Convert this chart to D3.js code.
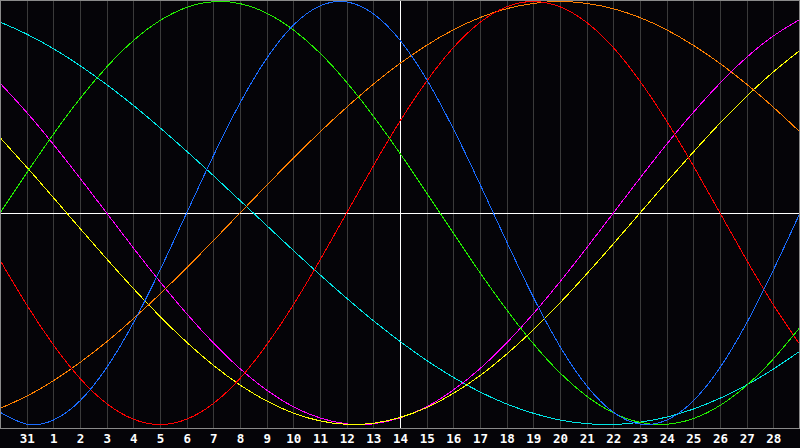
<!DOCTYPE html>
<html>
<head>
<meta charset="utf-8">
<script src="https://cdn.jsdelivr.net/npm/d3@7"></script>
<style>
  html, body { margin: 0; padding: 0; background: #050408; }
  svg { display: block; }
</style>
</head>
<body>
<svg id="bioChart" width="800" height="448"></svg>
<script>
// day labels under the grid lines (grid index 1..29)
let dayLabels = ['31','1','2','3','4','5','6','7','8','9','10','11','12','13','14',
                 '15','16','17','18','19','20','21','22','23','24','25','26','27','28'];

// daily values, grid index 0..30
let physical = [-0.942,-0.998,-0.979,-0.888,-0.731,-0.520,-0.270,0,0.270,0.520,0.731,0.888,0.979,0.998,0.942,
                0.817,0.631,0.398,0.136,-0.136,-0.398,-0.631,-0.817,-0.942,-0.998,-0.979,-0.888,-0.731,-0.520,-0.270,0];
let emotional = [-0.223,-0.434,-0.623,-0.782,-0.901,-0.975,-1,-0.975,-0.901,-0.782,-0.623,-0.434,-0.223,0,0.223,
                 0.434,0.623,0.782,0.901,0.975,1,0.975,0.901,0.782,0.623,0.434,0.223,0,-0.223,-0.434,-0.623];
let intellectual = [0,0.189,0.372,0.541,0.690,0.815,0.910,0.972,0.999,0.990,0.945,0.866,0.756,0.618,0.458,
                    0.282,0.095,-0.095,-0.282,-0.458,-0.618,-0.756,-0.866,-0.945,-0.990,-0.999,-0.972,-0.910,-0.815,-0.690,-0.541];
let intuitive = [0.614,0.476,0.325,0.165,0,-0.165,-0.325,-0.476,-0.614,-0.736,-0.837,-0.916,-0.969,-0.997,-0.997,
                 -0.969,-0.916,-0.837,-0.736,-0.614,-0.476,-0.325,-0.165,0,0.165,0.325,0.476,0.614,0.736,0.837,0.916];
let aesthetic = [0.357,0.217,0.073,-0.073,-0.217,-0.357,-0.489,-0.611,-0.720,-0.813,-0.889,-0.946,-0.983,-0.999,-0.994,
                 -0.967,-0.920,-0.853,-0.769,-0.667,-0.552,-0.425,-0.288,-0.146,0,0.146,0.288,0.425,0.552,0.667,0.769];
let awareness = [-0.924,-0.866,-0.793,-0.707,-0.609,-0.5,-0.383,-0.259,-0.131,0,0.131,0.259,0.383,0.5,0.609,
                 0.707,0.793,0.866,0.924,0.966,0.991,1,0.991,0.966,0.924,0.866,0.793,0.707,0.609,0.5,0.383];
let spiritual = [0.903,0.846,0.777,0.697,0.607,0.509,0.403,0.292,0.177,0.059,-0.059,-0.177,-0.292,-0.403,-0.509,
                 -0.607,-0.697,-0.777,-0.846,-0.903,-0.947,-0.979,-0.996,-1.000,-0.989,-0.965,-0.927,-0.876,-0.813,-0.738,-0.653];

let seriesNames = ['spiritual','intuitive','aesthetic','awareness','emotional','intellectual','physical'];
let seriesValues = [spiritual, intuitive, aesthetic, awareness, emotional, intellectual, physical];
let seriesColors = ['#00e6e6','#ff00ff','#ffff00','#ff8000','#ff0000','#22ee00','#1a6cff'];

// index of "today" (day 14)
let todayIndex = 15;

function drawChart(){
    let svg = d3.select('#bioChart');

    let width = 800;
    let plotH = 428;

    let xScale = d3.scaleLinear()
                    .domain([0, 30])
                    .range([0, width]);
    let yScale = d3.scaleLinear()
                    .domain([-1, 1])
                    .range([424.5, 1.5]);

    // background
    svg.append('rect')
        .attr('x', 0).attr('y', 0)
        .attr('width', width).attr('height', 448)
        .attr('fill', '#050408');

    // vertical day grid lines
    svg.append('g')
        .attr('class', 'gridGrp')
        .selectAll('line')
        .data(d3.range(1, 30))
        .enter()
        .append('line')
        .attr('x1', d => Math.round(xScale(d)) + 0.5)
        .attr('x2', d => Math.round(xScale(d)) + 0.5)
        .attr('y1', 0)
        .attr('y2', plotH)
        .attr('stroke', '#3a3a3a')
        .attr('stroke-width', 1)
        .attr('shape-rendering', 'crispEdges');

    // today + zero line
    let todayX = Math.round(xScale(todayIndex)) + 0.5;
    svg.append('line')
        .attr('x1', todayX).attr('x2', todayX)
        .attr('y1', 0).attr('y2', plotH)
        .attr('stroke', '#ffffff')
        .attr('shape-rendering', 'crispEdges');
    let zeroY = Math.round(yScale(0)) + 0.5;
    svg.append('line')
        .attr('x1', 0).attr('x2', width)
        .attr('y1', zeroY).attr('y2', zeroY)
        .attr('stroke', '#ffffff')
        .attr('shape-rendering', 'crispEdges');

    // the rhythm curves
    let line = d3.line()
                .x((d, i) => xScale(i))
                .y(d => yScale(d))
                .curve(d3.curveNatural);

    svg.append('g')
        .attr('class', 'curveGrp')
        .selectAll('path')
        .data(seriesValues)
        .enter()
        .append('path')
        .attr('class', (d, i) => seriesNames[i])
        .attr('d', d => line(d))
        .attr('fill', 'none')
        .attr('stroke', (d, i) => seriesColors[i])
        .attr('stroke-width', 1)
        .attr('shape-rendering', 'crispEdges');

    // plot border
    svg.append('rect')
        .attr('x', 0.5).attr('y', 0.5)
        .attr('width', width - 1).attr('height', plotH - 0.5)
        .attr('fill', 'none')
        .attr('stroke', '#8a8a8a')
        .attr('shape-rendering', 'crispEdges');

    // day labels
    let xAxis = d3.axisBottom(xScale)
                    .tickValues(d3.range(1, 30))
                    .tickFormat((d) => dayLabels[d - 1])
                    .tickSize(0)
                    .tickPadding(0);
    let axisGrp = svg.append('g')
        .attr('transform', 'translate(0,' + 443 + ')')
        .call(xAxis);
    axisGrp.select('.domain').remove();
    axisGrp.selectAll('text')
        .attr('fill', '#ffffff')
        .attr('font-family', 'DejaVu Sans Mono')
        .attr('font-weight', 'bold')
        .attr('font-size', 12.5)
        .attr('dy', 0);
}

drawChart();
</script>
</body>
</html>
